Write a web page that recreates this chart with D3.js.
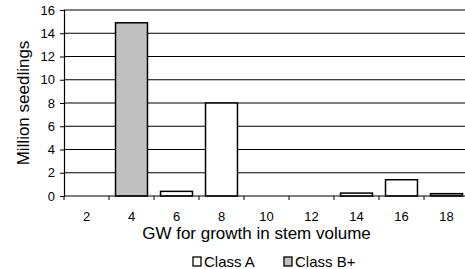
<!DOCTYPE html>
<html>
<head>
<meta charset="utf-8">
<script src="https://cdn.jsdelivr.net/npm/d3@7"></script>
<style>
  body { margin: 0; background: #fff; }
  svg { display: block; font-family: "Liberation Sans", Arial, sans-serif; }
</style>
</head>
<body>
<svg id="chart"></svg>
<script>
// GW classes on the x axis
const categories = ['2', '4', '6', '8', '10', '12', '14', '16', '18'];
// million seedlings per class
const classA = [0, 0, 0.4, 8.0, 0, 0, 0.25, 1.4, 0];
const classBplus = [0, 14.9, 0, 0, 0, 0, 0, 0, 0.2];
const seriesNames = ['Class A', 'Class B+'];
const seriesColors = ['#ffffff', '#c0c0c0'];
const yTicks = [0, 2, 4, 6, 8, 10, 12, 14, 16];

const width = 465, height = 269;
const margins = { top: 10, bottom: 73, left: 64, right: -4 };

const svg = d3.select('#chart')
  .attr('width', width)
  .attr('height', height);

const rows = categories.map((c, i) => ({ cat: c, 'Class A': classA[i], 'Class B+': classBplus[i] }));
const stacked = d3.stack().keys(seriesNames)(rows);

const x = d3.scaleBand()
  .domain(categories)
  .range([margins.left, width - margins.right])
  .paddingInner(0.29)
  .paddingOuter(0.145);

const y = d3.scaleLinear()
  .domain([0, 16])
  .range([height - margins.bottom, margins.top]);

// gridlines
svg.append('g')
  .selectAll('line')
  .data(yTicks.slice(1))
  .join('line')
  .attr('x1', margins.left)
  .attr('x2', width - margins.right)
  .attr('y1', d => y(d))
  .attr('y2', d => y(d))
  .attr('stroke', '#000')
  .attr('stroke-width', 1);

// bars
svg.append('g')
  .selectAll('g')
  .data(stacked)
  .join('g')
  .attr('fill', (d, i) => seriesColors[i])
  .selectAll('rect')
  .data(d => d.filter(v => v[1] - v[0] > 0))
  .join('rect')
  .attr('x', d => x(d.data.cat))
  .attr('width', x.bandwidth())
  .attr('y', d => y(d[1]))
  .attr('height', d => y(d[0]) - y(d[1]))
  .attr('stroke', '#000')
  .attr('stroke-width', 1.5);

// x axis
const xAxis = d3.axisBottom(x).tickSize(0).tickPadding(16);
const gx = svg.append('g')
  .attr('transform', `translate(0,${y(0)})`)
  .call(xAxis);
gx.attr('font-family', null).attr('font-size', 13);
gx.select('.domain').remove();
gx.selectAll('text').attr('fill', '#000');
svg.append('line')
  .attr('x1', margins.left).attr('x2', width)
  .attr('y1', y(0)).attr('y2', y(0))
  .attr('stroke', '#000').attr('stroke-width', 1.2);
svg.append('g')
  .selectAll('line')
  .data(d3.range(categories.length + 1))
  .join('line')
  .attr('x1', i => margins.left + i * x.step())
  .attr('x2', i => margins.left + i * x.step())
  .attr('y1', y(0))
  .attr('y2', y(0) + 4)
  .attr('stroke', '#000');

// y axis
const yAxis = d3.axisLeft(y).tickValues(yTicks).tickSize(4).tickPadding(5);
const gy = svg.append('g')
  .attr('transform', `translate(${margins.left},0)`)
  .call(yAxis);
gy.attr('font-family', null).attr('font-size', 13);
gy.select('.domain').attr('stroke', '#000').attr('stroke-width', 1.2);
gy.selectAll('text').attr('fill', '#000');

// axis titles
svg.append('text')
  .attr('x', 256.5)
  .attr('y', 239)
  .attr('text-anchor', 'middle')
  .attr('font-size', 17)
  .text('GW for growth in stem volume');

svg.append('text')
  .attr('transform', `translate(28.5,${(y(0) + y(16)) / 2}) rotate(-90)`)
  .attr('text-anchor', 'middle')
  .attr('font-size', 17)
  .text('Million seedlings');

// legend
const legX = [193, 284];
const leg = svg.append('g')
  .selectAll('g')
  .data(seriesNames)
  .join('g')
  .attr('transform', (d, i) => `translate(${legX[i]},257)`);
leg.append('rect')
  .attr('width', 8).attr('height', 9)
  .attr('fill', (d, i) => seriesColors[i])
  .attr('stroke', '#000').attr('stroke-width', 1.3);
leg.append('text')
  .attr('x', 11).attr('y', 10)
  .attr('font-size', 15)
  .text(d => d);
</script>
</body>
</html>
